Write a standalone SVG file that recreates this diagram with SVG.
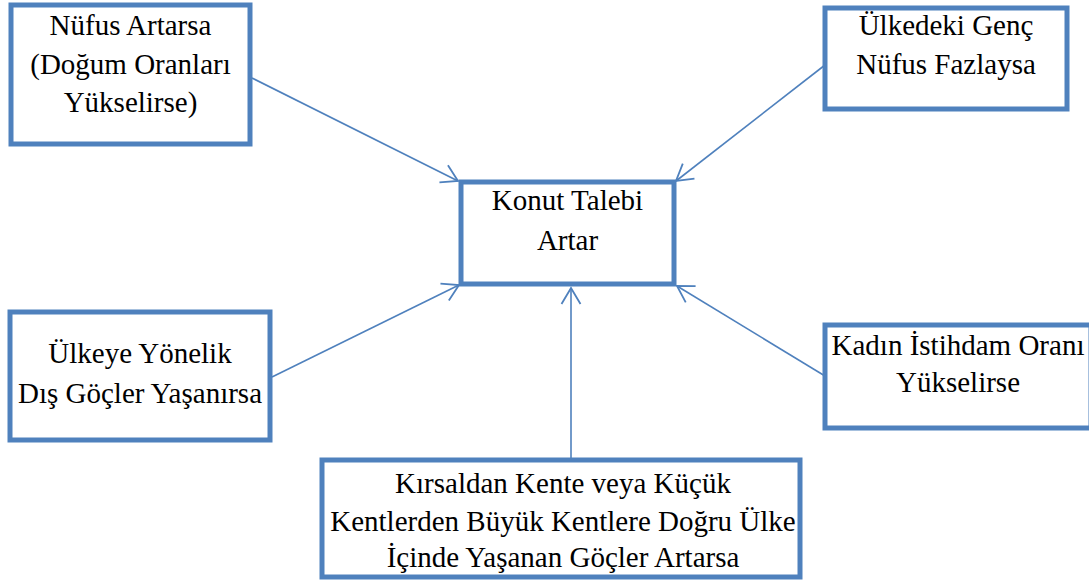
<svg xmlns="http://www.w3.org/2000/svg" width="1089" height="580" viewBox="0 0 1089 580">
  <defs>
    <style>
      .box { fill: #ffffff; stroke: #4F81BD; stroke-width: 5; }
      .lbl { font-size: 29px; fill: #000000; text-anchor: middle; }
      .link { fill: none; stroke: #4F81BD; stroke-width: 1.6; }
    </style>
    <marker id="open-arrow" markerUnits="userSpaceOnUse" markerWidth="24" markerHeight="24" viewBox="-18 -12 20 24" refX="0" refY="0" orient="auto">
      <path d="M-16,-9.5 L0,0 L-16,9.5" fill="none" stroke="#4F81BD" stroke-width="1.8"/>
    </marker>
  </defs>
  <rect width="1089" height="580" fill="#ffffff"/>

  <g id="connectors">
    <line class="link" x1="252" y1="78" x2="458" y2="181" marker-end="url(#open-arrow)"/>
    <line class="link" x1="825" y1="65" x2="676" y2="181" marker-end="url(#open-arrow)"/>
    <line class="link" x1="272" y1="377" x2="459" y2="285" marker-end="url(#open-arrow)"/>
    <line class="link" x1="825" y1="376" x2="677" y2="286" marker-end="url(#open-arrow)"/>
    <line class="link" x1="571" y1="458" x2="571" y2="288" marker-end="url(#open-arrow)"/>
  </g>

  <g font-family="'Liberation Serif', 'DejaVu Serif', serif">
    <g id="node-nufus">
      <rect class="box" x="11" y="5" width="239" height="139"/>
      <text class="lbl" x="130.5" y="35">Nüfus Artarsa</text>
      <text class="lbl" x="130.5" y="73.5">(Doğum Oranları</text>
      <text class="lbl" x="130.5" y="112">Yükselirse)</text>
    </g>

    <g id="node-genc">
      <rect class="box" x="825" y="8" width="242" height="101"/>
      <text class="lbl" x="946" y="35">Ülkedeki Genç</text>
      <text class="lbl" x="946" y="74">Nüfus Fazlaysa</text>
    </g>

    <g id="node-konut">
      <rect class="box" x="461" y="182" width="213" height="102"/>
      <text class="lbl" x="567.5" y="210">Konut Talebi</text>
      <text class="lbl" x="567.5" y="250">Artar</text>
    </g>

    <g id="node-dis-goc">
      <rect class="box" x="10" y="312" width="260" height="128"/>
      <text class="lbl" x="140" y="363">Ülkeye Yönelik</text>
      <text class="lbl" x="140" y="403">Dış Göçler Yaşanırsa</text>
    </g>

    <g id="node-kadin">
      <rect class="box" x="825" y="325" width="266" height="103"/>
      <text class="lbl" x="958" y="355">Kadın İstihdam Oranı</text>
      <text class="lbl" x="958" y="392">Yükselirse</text>
    </g>

    <g id="node-ic-goc">
      <rect class="box" x="322" y="460" width="478" height="117"/>
      <text class="lbl" x="563" y="493">Kırsaldan Kente veya Küçük</text>
      <text class="lbl" x="563" y="531">Kentlerden Büyük Kentlere Doğru Ülke</text>
      <text class="lbl" x="563" y="567">İçinde Yaşanan Göçler Artarsa</text>
    </g>
  </g>
</svg>
